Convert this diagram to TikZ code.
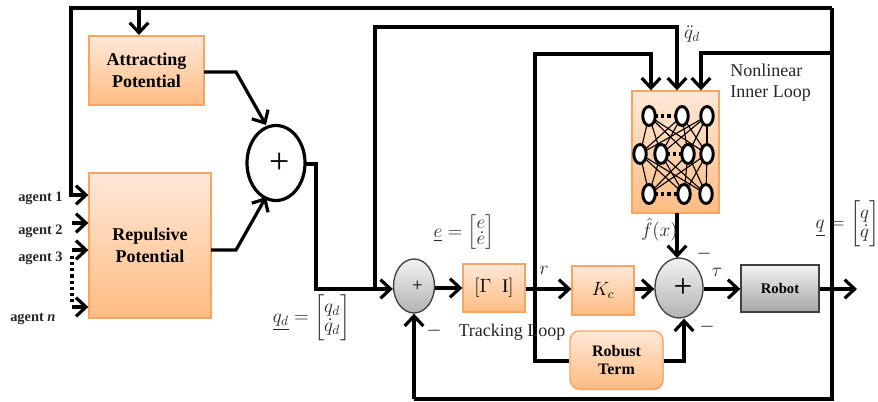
\documentclass[tikz,border=0pt]{standalone}
\usepackage{amsmath}
\usepackage{fontspec}
\setmainfont{Liberation Serif}
\usetikzlibrary{arrows.meta,shapes.geometric,shadows,calc}
\newcommand{\fz}[1]{\fontsize{#1}{#1}\selectfont}
\definecolor{boxtop}{RGB}{255,232,216}
\definecolor{boxbot}{RGB}{255,188,130}
\definecolor{boxline}{RGB}{248,165,100}
\tikzset{
  px/.style={x=0.75pt,y=-0.75pt},
  arr/.style={line width=2.4pt,line join=miter,-{Straight Barb[length=7.5pt,width=14pt,line width=2.4pt]}},
  wire/.style={line width=2.4pt,line join=miter},
  softshadow/.style={drop shadow={shadow xshift=0.5pt,shadow yshift=-1pt,opacity=0.3,fill=black!70}},
  orangebox/.style 2 args={draw=boxline,line width=1pt,top color=boxtop,bottom color=boxbot,
     minimum width=#1*0.75pt,minimum height=#2*0.75pt,inner sep=0pt,align=center,softshadow},
  graysum/.style 2 args={ellipse,draw=black!75,line width=1pt,top color=black!5,bottom color=black!30,
     minimum width=#1*0.75pt,minimum height=#2*0.75pt,inner sep=0pt},
  bigsum/.style={ellipse,draw=black,line width=2.4pt,fill=white,minimum width=58*0.75pt,minimum height=75*0.75pt,inner sep=0pt},
  nnn/.style={ellipse,draw=black,line width=2.2pt,fill=white,minimum width=12.5*0.75pt,minimum height=19*0.75pt,inner sep=0pt},
  nnl/.style={line width=0.85pt,black},
  nnd/.style={line width=2.4pt,dash pattern=on 2.4pt off 2.2pt},
  lab/.style={inner sep=0pt,font=\fz{13.5}},
  ag/.style={inner sep=0pt,font=\fz{10.8}\bfseries,text=black!85},
  mathlab/.style={inner sep=0pt,font=\fz{14.4},text=black!85},
}
\begin{document}
\begin{tikzpicture}[px]
\useasboundingbox (0,0) rectangle (878,402);
% blocks
\node[orangebox={115}{69},font=\fz{13.5}\bfseries] (attr) at (146.5,70.5) {Attracting\\[3pt]Potential};
\node[orangebox={122}{145},font=\fz{13.5}\bfseries] (rep) at (150,245.5) {Repulsive\\[3pt]Potential};
\node[bigsum] (sumA) at (276,163) {\hspace*{5pt}\fz{27}+};
\node[graysum={41}{54}] (sumB) at (414,286) {\hspace*{5pt}\fz{14}+};
\node[orangebox={62}{48},font=\fz{14.4}] (gam) at (494,288) {$[\Gamma\;\; \mathrm{I}]$};
\node[orangebox={62}{49},font=\fz{14.4}] (kc) at (603,290.5) {$K_c$};
\node[graysum={48}{60}] (sumC) at (679,288) {\hspace*{6pt}\fz{25}+};
\node[draw=black!75,line width=1pt,top color=black!5,bottom color=black!35,minimum width=78*0.75pt,minimum height=47*0.75pt,inner sep=0pt,font=\fz{11}\bfseries,softshadow] (robot) at (780,288.5) {Robot};
\node[orangebox={93}{58},rounded corners=7pt,font=\fz{12}\bfseries] (rob) at (616.5,360) {Robust\\[2pt]Term};
\node[orangebox={87}{122}] (nn) at (675.5,152) {};
% network nodes
\foreach \n/\x/\y in {a1/649/116,a2/682/116,a3/707/116,b1/640/154,b2/661/154,b3/688/154,b4/707/154,c1/649/194,c2/684/194,c3/706/194}
  \coordinate (\n) at (\x,\y);
\foreach \p in {a1,a2,a3}\foreach \q in {b1,b2,b3,b4}
  \draw[nnl] (\p) -- (\q);
\foreach \p in {c1,c2,c3}\foreach \q in {b1,b2,b3,b4}
  \draw[nnl] (\p) -- (\q);
\draw[nnd] (a1) -- (a2);
\draw[nnd] (b2) -- (b3);
\draw[nnd] (c1) -- (c2);
\foreach \n/\x/\y in {a1/649/116,a2/682/116,a3/707/116,b1/640/154,b2/661/154,b3/688/154,b4/707/154,c1/649/194,c2/684/194,c3/706/194}
  \node[nnn] (n\n) at (\x,\y) {};
% junction coordinates
\coordinate (TL) at (71,8);
\coordinate (TR) at (832,8);
\coordinate (BR) at (832,399);
\coordinate (BL) at (414,399);
\coordinate (ag1) at (71,195);
\coordinate (ag2) at (72,223);
\coordinate (ag3) at (72,250);
\coordinate (agn) at (72,307);
\coordinate (d1) at (72,256);
\coordinate (d2) at (72,302);
\coordinate (topA) at (139,8);
\coordinate (attrIn) at (139,35);
\coordinate (elbA) at (236,72);
\coordinate (attrOut) at (204,72);
\coordinate (sumAin1) at (266,125);
\coordinate (elbR) at (236,250);
\coordinate (repOut) at (211,250);
\coordinate (sumAin2) at (266,197);
\coordinate (sumAout) at (305,164);
\coordinate (e1) at (316,164);
\coordinate (e2) at (316,289);
\coordinate (j1) at (375,289);
\coordinate (j1t) at (375,27);
\coordinate (qddT) at (677,27);
\coordinate (j2) at (535,289);
\coordinate (j2t) at (535,54);
\coordinate (rT) at (651,54);
\coordinate (fbR) at (832,53);
\coordinate (fbT) at (701,53);
\coordinate (jrob) at (535,361);
\coordinate (robR) at (684,361);
\coordinate (outEnd) at (857,289);
\coordinate (nnOut) at (677,213);
\coordinate (sumCtop) at (677,258);
% connectors
\draw[arr] (TR) -- (TL) -- (ag1) -- (rep.west |- ag1);
\draw[wire] (TR) -- (BR) -- (BL);
\draw[arr] (BL) -- (sumB.south);
\draw[arr] (topA) -- (attrIn);
\draw[arr] (ag2) -- (rep.west |- ag2);
\draw[arr] (ag3) -- (rep.west |- ag3);
\draw[arr] (agn) -- (rep.west |- agn);
\draw[line width=2.6pt,dash pattern=on 2.4pt off 2.2pt] (d1) -- (d2);
\draw[arr] (attrOut) -- (elbA) -- (sumAin1);
\draw[arr] (repOut) -- (elbR) -- (sumAin2);
\draw[arr] (sumAout) -- (e1) -- (e2) -- (sumB.west |- e2);
\draw[arr] (j1) -- (j1t) -- (qddT) -- (nn.north -| qddT);
\draw[arr] (j2) -- (j2t) -- (rT) -- (nn.north -| rT);
\draw[arr] (fbR) -- (fbT) -- (nn.north -| fbT);
\draw[arr] (sumB.east |- gam) -- (gam.west);
\draw[arr] (gam.east |- j2) -- (kc.west |- j2);
\draw[arr] (kc.east |- j2) -- (sumC.west |- j2);
\draw[arr] (sumC.east |- j2) -- (robot.west |- j2);
\draw[arr] (robot.east |- j2) -- (outEnd);
\draw[arr] (nnOut) -- (sumCtop);
\draw[wire] (j2) -- (jrob) -- (rob.west |- jrob);
\draw[arr] (rob.east |- robR) -- (robR) -- (sumC.south -| robR);
% labels
\node[ag,anchor=west] (l1) at (18,198) {agent 1};
\node[ag,anchor=west] (l2) at (18,231) {agent 2};
\node[ag,anchor=west] (l3) at (18,258) {agent 3};
\node[ag,anchor=west] (l4) at (10,319) {agent \textit{n}};
\node[lab,anchor=west,align=left,text=black!85] (nl) at (730,82.5) {Nonlinear\\[2pt]Inner Loop};
\node[lab,anchor=center,text=black!85] (tl) at (512,332) {Tracking Loop};
\node[mathlab] (qdd) at (692,34) {$\ddot{q}_d$};
\node[mathlab,anchor=east] (fx) at (678,230) {$\hat{f}(x)$};
\node[mathlab] (rl) at (544,270) {$r$};
\node[mathlab] (tau) at (717,272) {$\tau$};
\node[mathlab] (el) at (464,232.5) {$\underline{e}=\begin{bmatrix}e\\[-2pt]\dot{e}\end{bmatrix}$};
\node[mathlab] (ql) at (847.5,224) {$\underline{q}=\begin{bmatrix}q\\[0pt]\dot{q}\end{bmatrix}$};
\node[mathlab] (qdl) at (311.5,318) {$\underline{q_d}=\begin{bmatrix}q_d\\[0pt]\dot{q}_d\end{bmatrix}$};
\node[lab] (m1) at (704,254) {$-$};
\node[lab] (m2) at (707,327) {$-$};
\node[lab] (m3) at (434,331) {$-$};
\end{tikzpicture}
\end{document}
